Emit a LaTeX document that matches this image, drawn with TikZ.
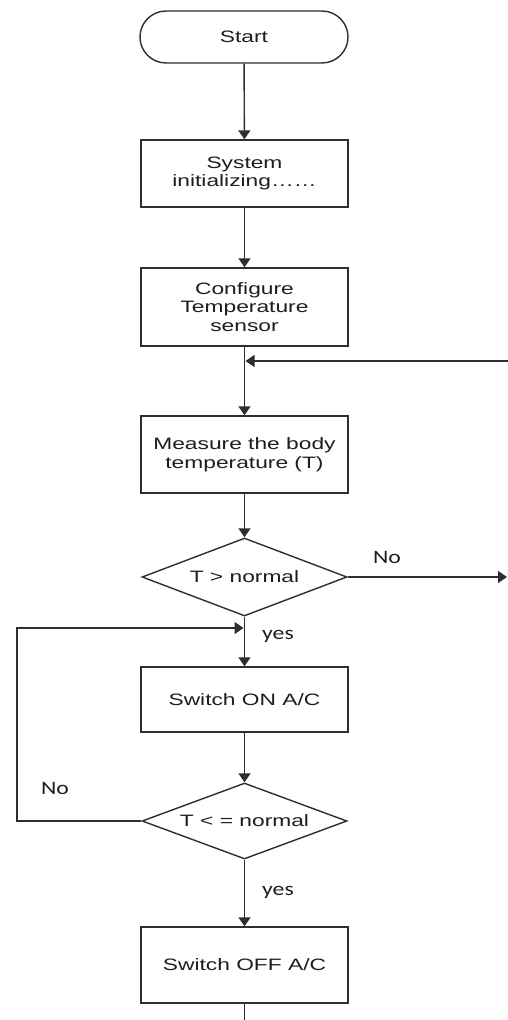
\documentclass[tikz,border=0pt]{standalone}
\usepackage{fontspec}
\setmainfont{Liberation Sans}[FakeStretch=1.38]
\newfontfamily\lblfont{Carlito}[FakeStretch=1.25]
\usetikzlibrary{shapes.geometric,arrows.meta}
\definecolor{ln}{HTML}{2E2E2E}
\definecolor{tx}{HTML}{1E1E1E}
\begin{document}
\begin{tikzpicture}[x=1pt,y=-1pt,
  every node/.style={text=tx},
  base/.style={draw=ln, line width=1.4pt, font=\fontsize{16.5}{18.5}\selectfont, align=center, inner sep=0pt},
  procbox/.style={base, rectangle, minimum width=207, minimum height=#1},
  termbox/.style={base, rectangle, rounded corners=26pt, minimum width=208, minimum height=52},
  decbox/.style={base, diamond, aspect=2.65, minimum width=205, minimum height=#1},
  conn/.style={draw=ln, line width=1.4pt},
  arr/.style={conn, -{Triangle[length=9pt,width=12pt]}},
  lbl/.style={font=\lblfont\fontsize{19}{21}\selectfont, inner sep=0pt}]
\useasboundingbox[fill=white] (0,0) rectangle (508,1020);

\node[termbox] (start) at (244,37) {Start};
\node[procbox=67] (sys) at (244.5,173.5) {System\\initializing……};
\node[procbox=78] (conf) at (244.5,307) {Configure\\Temperature\\sensor};
\node[procbox=77] (meas) at (244.5,454.5) {Measure the body\\temperature (T)};
\node[decbox=78] (d1) at (244.5,577) {T > normal};
\node[procbox=65] (on) at (244.5,699.5) {Switch ON A/C};
\node[decbox=76] (d2) at (244.5,821) {T < = normal};
\node[procbox=76] (off) at (244.5,965) {Switch OFF A/C};

\coordinate (fbR) at (508,361);
\coordinate (noR) at (507,577);
\coordinate (loopL) at (17,628);
\coordinate (endB) at (244.5,1020);

\draw[arr] (start) -- (sys);
\draw[arr] (sys) -- (conf);
\draw[arr] (conf) -- (meas);
\draw[arr] (fbR) -- ([xshift=1pt]conf.south |- fbR);
\draw[arr] (meas) -- (d1);
\draw[arr] (d1.east) -- (noR);
\draw[arr] (d1) -- (on);
\draw[arr] (on) -- (d2);
\draw[arr] (d2.west) -- (loopL |- d2.west) -- (loopL) -- ([xshift=-1pt]d1.south |- loopL);
\draw[arr] (d2) -- (off);
\draw[conn] (off) -- (endB);

\node[lbl] (no1) at (387,557) {No};
\node[lbl] (yes1) at (278,636) {yes};
\node[lbl] (no2) at (55,788) {No};
\node[lbl] (yes2) at (278,892) {yes};
\end{tikzpicture}
\end{document}
